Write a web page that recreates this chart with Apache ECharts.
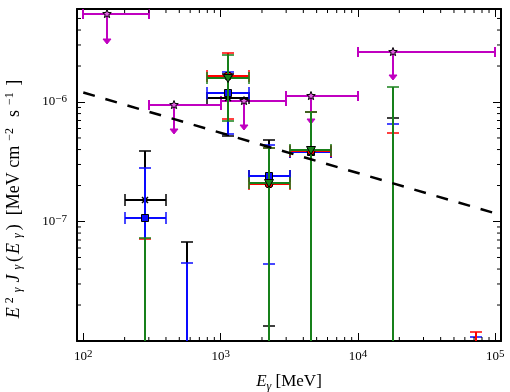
<!DOCTYPE html>
<html>
<head>
<meta charset="utf-8">
<script src="https://cdn.jsdelivr.net/npm/echarts@6/dist/echarts.min.js"></script>
<style>
html, body { margin: 0; padding: 0; background: #fff; }
#chart { width: 510px; height: 392px; }
</style>
</head>
<body>
<div id="chart"></div>
<script>
// energy bins [MeV]
var binLo = [200, 400, 800, 1600, 3200, 12800, 51200];
var binHi = [400, 800, 1600, 3200, 6400, 25600, 102400];
var binMid = [283, 566, 1131, 2263, 4525, 18100, 72400];

// E^2 J [MeV cm^-2 s^-1] per set; values under 1e-8 sit below the frame
var blackVal = [1.52e-7, 5e-9, 1.08e-6, 2.38e-7, 3.80e-7, 5e-9, null];
var blackLo = [5e-9, 1e-9, 5.21e-7, 1.34e-8, 5e-9, 1e-9, null];
var blackHi = [3.91e-7, 6.77e-8, 1.70e-6, 4.82e-7, 8.2e-7, 7.29e-7, null];

var blueVal = [1.08e-7, 5e-9, 1.18e-6, 2.42e-7, 3.78e-7, 5e-9, 5e-9];
var blueLo = [5e-9, 1e-9, 5.41e-7, 4.38e-8, 5e-9, 1e-9, 1e-9];
var blueHi = [2.83e-7, 4.53e-8, 1.78e-6, 4.38e-7, 8.17e-7, 6.53e-7, 1.07e-8];

var redVal = [5e-9, null, 1.66e-6, 2.07e-7, 3.88e-7, 5e-9, 5e-9];
var redLo = [1e-9, null, 7.26e-7, 5e-9, 5e-9, 1e-9, 1e-9];
var redHi = [7.2e-8, null, 2.55e-6, 4.13e-7, 8.2e-7, 5.46e-7, 1.18e-8];

var greenVal = [5e-9, null, 1.59e-6, 2.10e-7, 3.98e-7, 5e-9, null];
var greenLo = [1e-9, null, 6.99e-7, 5e-9, 5e-9, 1e-9, null];
var greenHi = [7.26e-8, null, 2.48e-6, 4.11e-7, 8.17e-7, 1.33e-6, null];

// upper limits (magenta)
var ulX = [150, 460, 1470, 4540, 17900];
var ulLo = [100, 300, 1000, 3000, 10000];
var ulHi = [300, 1000, 3000, 10000, 100000];
var ulVal = [5.41e-6, 9.44e-7, 1.02e-6, 1.13e-6, 2.64e-6];
var ulTip = [3.1e-6, 5.5e-7, 5.96e-7, 6.7e-7, 1.55e-6];

// dashed power law
var plX = [100, 100000];
var plY = [1.2e-6, 1.17e-7];

// minor ticks
var xMinor = [200, 300, 400, 500, 600, 700, 800, 900,
  2000, 3000, 4000, 5000, 6000, 7000, 8000, 9000,
  20000, 30000, 40000, 50000, 60000, 70000, 80000, 90000];
var yMinor = [2e-8, 3e-8, 4e-8, 5e-8, 6e-8, 7e-8, 8e-8, 9e-8,
  2e-7, 3e-7, 4e-7, 5e-7, 6e-7, 7e-7, 8e-7, 9e-7,
  2e-6, 3e-6, 4e-6, 5e-6];

var SERIF = 'Liberation Serif';
var MAG = '#c000c0';

function pack(val, lo, hi) {
  var out = [];
  for (var i = 0; i < binMid.length; i++) {
    if (val[i] == null) continue;
    out.push([binMid[i], val[i], binLo[i], binHi[i], lo[i], hi[i]]);
  }
  return out;
}

function px(p) { return [Math.round(p[0]), Math.round(p[1])]; }

function markerShape(kind, c, color) {
  var x = c[0], y = c[1];
  var edge = {fill: color, stroke: '#000', lineWidth: 1};
  if (kind == 'x') {
    return {type: 'group', children: [
      {type: 'line', shape: {x1: x - 3, y1: y - 3, x2: x + 3, y2: y + 3}, style: {stroke: '#000', lineWidth: 1.5}},
      {type: 'line', shape: {x1: x - 3, y1: y + 3, x2: x + 3, y2: y - 3}, style: {stroke: '#000', lineWidth: 1.5}}
    ]};
  }
  if (kind == 'square') {
    return {type: 'rect', shape: {x: x - 3.5, y: y - 3.5, width: 7, height: 7}, style: edge};
  }
  if (kind == 'tri') {
    return {type: 'polygon', shape: {points: [[x - 4.5, y - 3.5], [x + 4.5, y - 3.5], [x, y + 4.5]]}, style: edge};
  }
  return {type: 'circle', shape: {cx: x, cy: y, r: 4}, style: edge};
}

function errorBars(color, marker) {
  return function (params, api) {
    var c = px(api.coord([api.value(0), api.value(1)]));
    var l = px(api.coord([api.value(2), api.value(1)]));
    var r = px(api.coord([api.value(3), api.value(1)]));
    var b = px(api.coord([api.value(0), api.value(4)]));
    var t = px(api.coord([api.value(0), api.value(5)]));
    var bar = {stroke: color, lineWidth: 2};
    var capS = {stroke: color, lineWidth: 1.5};
    var k = 6;
    var kids = [
      {type: 'line', shape: {x1: c[0], y1: b[1], x2: c[0], y2: t[1]}, style: bar},
      {type: 'line', shape: {x1: c[0] - k, y1: t[1], x2: c[0] + k, y2: t[1]}, style: capS},
      {type: 'line', shape: {x1: c[0] - k, y1: b[1], x2: c[0] + k, y2: b[1]}, style: capS},
      {type: 'line', shape: {x1: l[0], y1: c[1], x2: r[0], y2: c[1]}, style: bar},
      {type: 'line', shape: {x1: l[0], y1: c[1] - k, x2: l[0], y2: c[1] + k}, style: capS},
      {type: 'line', shape: {x1: r[0], y1: c[1] - k, x2: r[0], y2: c[1] + k}, style: capS}
    ];
    kids.push(markerShape(marker, c, color));
    return {type: 'group', children: kids};
  };
}

function starPoints(x, y, ro, ri) {
  var pts = [];
  for (var i = 0; i < 10; i++) {
    var a = -Math.PI / 2 + i * Math.PI / 5;
    var rr = i % 2 ? ri : ro;
    pts.push([x + rr * Math.cos(a), y + rr * Math.sin(a)]);
  }
  return pts;
}

function upperLimit(params, api) {
  var c = px(api.coord([api.value(0), api.value(1)]));
  var l = px(api.coord([api.value(2), api.value(1)]));
  var r = px(api.coord([api.value(3), api.value(1)]));
  var tip = px(api.coord([api.value(0), api.value(4)]));
  var st = {stroke: MAG, lineWidth: 2};
  return {type: 'group', children: [
    {type: 'line', shape: {x1: l[0], y1: c[1], x2: r[0], y2: c[1]}, style: st},
    {type: 'line', shape: {x1: l[0], y1: c[1] - 5, x2: l[0], y2: c[1] + 5}, style: st},
    {type: 'line', shape: {x1: r[0], y1: c[1] - 5, x2: r[0], y2: c[1] + 5}, style: st},
    {type: 'line', shape: {x1: c[0], y1: c[1], x2: c[0], y2: tip[1] - 3}, style: st},
    {type: 'polygon', shape: {points: [[c[0] - 4, tip[1] - 4], [c[0] + 4, tip[1] - 4], [c[0], tip[1] + 1]]}, style: {fill: MAG, stroke: MAG, lineWidth: 1}},
    {type: 'polygon', shape: {points: starPoints(c[0], c[1], 4.5, 1.9)}, style: {fill: '#e060e0', stroke: '#000', lineWidth: 1}}
  ]};
}

var ulData = ulX.map(function (x, i) { return [x, ulVal[i], ulLo[i], ulHi[i], ulTip[i]]; });

function expLabel(v) {
  var lg = Math.log10(v);
  var e = Math.round(lg);
  if (Math.abs(lg - e) > 1e-6) return '';
  return '{b|10}{s|' + String(e).replace('-', '\u2212') + '}';
}

var tickRich = {
  b: {fontSize: 13, fontFamily: SERIF, color: '#000', lineHeight: 16},
  s: {fontSize: 11, fontFamily: SERIF, color: '#000', verticalAlign: 'top', lineHeight: 10}
};
var nameRich = {
  i: {fontSize: 18, fontFamily: SERIF, fontStyle: 'italic', color: '#000', lineHeight: 20, padding: [0, 2]},
  r: {fontSize: 18, fontFamily: SERIF, color: '#000', lineHeight: 20},
  s: {fontSize: 12, fontFamily: SERIF, color: '#000', verticalAlign: 'top', lineHeight: 13, padding: [0, 2]},
  si: {fontSize: 12, fontFamily: SERIF, fontStyle: 'italic', color: '#000', verticalAlign: 'bottom', lineHeight: 13, padding: [0, 3]}
};

var frame = {lineStyle: {color: '#000', width: 2}};
var majTick = {inside: true, length: 8, lineStyle: {color: '#000', width: 1}};

var option = {
  backgroundColor: '#fff',
  animation: false,
  grid: {left: 77, right: 9, top: 9, bottom: 51, containLabel: false, outerBoundsMode: 'none'},
  xAxis: [{
    type: 'log', min: 90, max: 110000, position: 'bottom',
    axisLine: frame, axisTick: majTick, splitLine: {show: false},
    axisLabel: {formatter: expLabel, rich: tickRich, margin: 8},
    name: '{i|E}{si|\u03b3}{r| [MeV]}', nameLocation: 'middle', nameGap: 30,
    nameTextStyle: {rich: {
      i: {fontSize: 17, fontFamily: SERIF, fontStyle: 'italic', color: '#000', lineHeight: 22},
      r: {fontSize: 17, fontFamily: SERIF, color: '#000', lineHeight: 22},
      si: {fontSize: 12, fontFamily: SERIF, fontStyle: 'italic', color: '#000', verticalAlign: 'bottom', lineHeight: 13}
    }}
  }, {
    type: 'log', min: 90, max: 110000, position: 'top',
    axisLine: frame, axisTick: majTick, splitLine: {show: false},
    axisLabel: {show: false}
  }],
  yAxis: [{
    type: 'log', min: 1e-8, max: 6e-6, position: 'left',
    axisLine: frame, axisTick: majTick, splitLine: {show: false},
    axisLabel: {formatter: expLabel, rich: tickRich, margin: 10, showMinLabel: false},
    name: '{i|E}{s|2}{si|\u03b3}{i|J}{si|\u03b3}{r|(}{i|E}{si|\u03b3}{r|)  [MeV cm}{s| \u22122}{r|  s}{s| \u22121}{r| ]}',
    nameLocation: 'middle', nameGap: 53, nameRotate: 90,
    nameTextStyle: {rich: nameRich, padding: [0, 50, 0, 0]}
  }, {
    type: 'log', min: 1e-8, max: 6e-6, position: 'right',
    axisLine: frame, axisTick: majTick, splitLine: {show: false},
    axisLabel: {show: false}
  }],
  series: [
    {
      type: 'custom', silent: true, clip: false, z: 10,
      data: xMinor.map(function (v) { return [v, 1e-7]; }),
      renderItem: function (params, api) {
        var cs = params.coordSys;
        var p = api.coord([api.value(0), api.value(1)]);
        var st = {stroke: '#000', lineWidth: 1};
        return {type: 'group', children: [
          {type: 'line', shape: {x1: p[0], y1: cs.y + cs.height, x2: p[0], y2: cs.y + cs.height - 4}, style: st},
          {type: 'line', shape: {x1: p[0], y1: cs.y, x2: p[0], y2: cs.y + 4}, style: st}
        ]};
      }
    },
    {
      type: 'custom', silent: true, clip: false, z: 10,
      data: yMinor.map(function (v) { return [1000, v]; }),
      renderItem: function (params, api) {
        var cs = params.coordSys;
        var p = api.coord([api.value(0), api.value(1)]);
        var st = {stroke: '#000', lineWidth: 1};
        return {type: 'group', children: [
          {type: 'line', shape: {x1: cs.x, y1: p[1], x2: cs.x + 4, y2: p[1]}, style: st},
          {type: 'line', shape: {x1: cs.x + cs.width, y1: p[1], x2: cs.x + cs.width - 4, y2: p[1]}, style: st}
        ]};
      }
    },
    {type: 'custom', clip: true, z: 2, data: ulData, renderItem: upperLimit, encode: {x: 0, y: 1}},
    {type: 'custom', clip: true, z: 3, data: pack(blackVal, blackLo, blackHi), renderItem: errorBars('#000000', 'x'), encode: {x: 0, y: 1}},
    {type: 'custom', clip: true, z: 4, data: pack(blueVal, blueLo, blueHi), renderItem: errorBars('#0a0aff', 'square'), encode: {x: 0, y: 1}},
    {type: 'custom', clip: true, z: 5, data: pack(redVal, redLo, redHi), renderItem: errorBars('#ff0000', 'circle'), encode: {x: 0, y: 1}},
    {type: 'custom', clip: true, z: 6, data: pack(greenVal, greenLo, greenHi), renderItem: errorBars('#17801a', 'tri'), encode: {x: 0, y: 1}},
    {
      type: 'line', z: 7, showSymbol: false, silent: true,
      data: plX.map(function (x, i) { return [x, plY[i]]; }),
      lineStyle: {color: '#000', width: 2.5, type: [12, 11]}
    }
  ]
};

var chart = echarts.init(document.getElementById('chart'));
chart.setOption(option);
</script>
</body>
</html>
